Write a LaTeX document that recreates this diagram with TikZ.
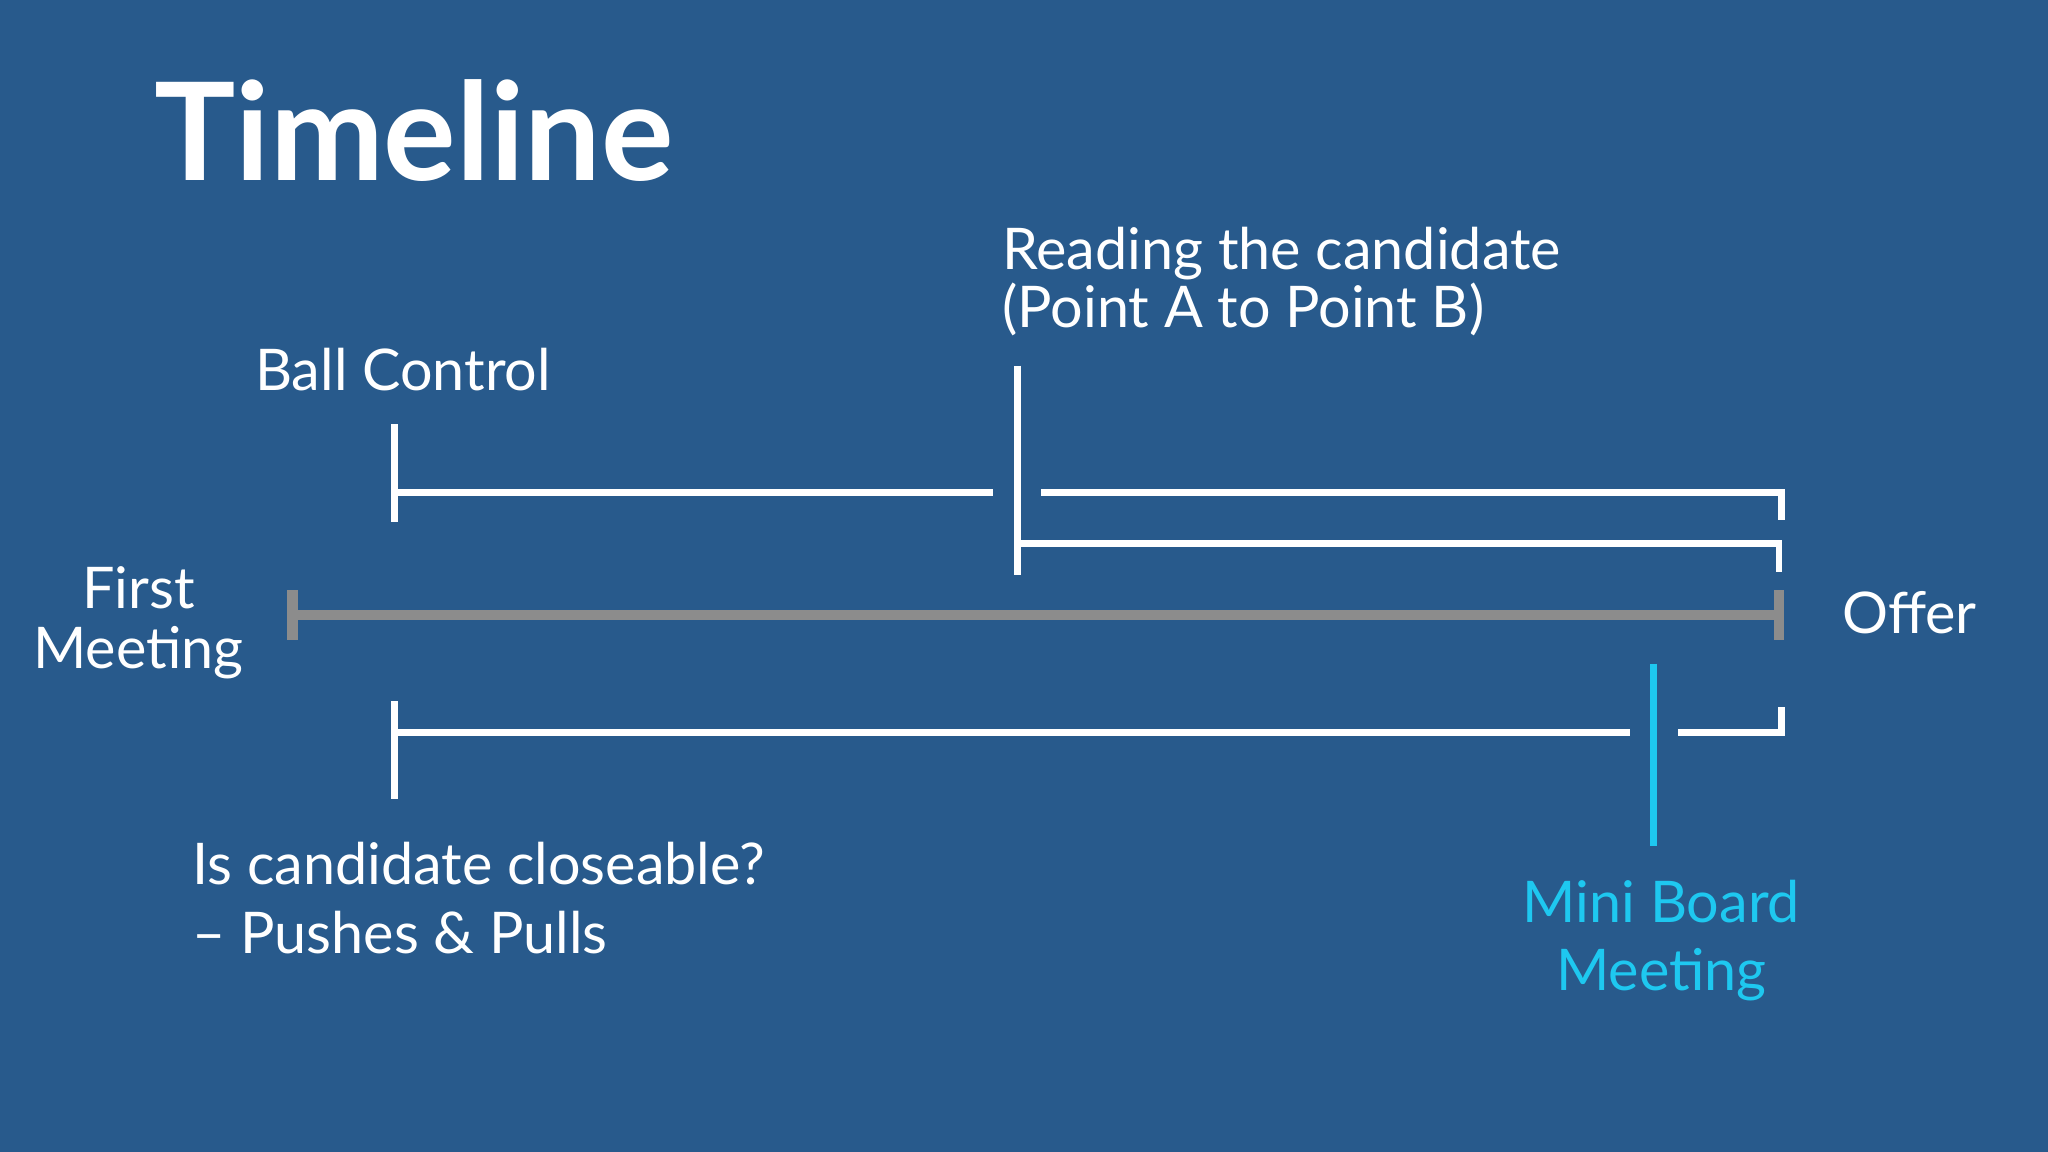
\documentclass[tikz,border=0pt]{standalone}
\usepackage{fontspec}
\setmainfont{Lato}
\definecolor{bg}{HTML}{285A8C}
\definecolor{cy}{HTML}{1EC8F0}
\definecolor{gr}{HTML}{8C8C8C}
\begin{document}
\begin{tikzpicture}[x=0.5pt,y=-0.5pt,
  wl/.style={draw=white,line width=2.5pt},
  lbl/.style={text=white,font=\fontsize{22}{26}\selectfont,inner sep=0pt,anchor=base west}]
\fill[bg] (0,0) rectangle (1568,882);
\useasboundingbox (0,0) rectangle (1568,882);
\node[lbl,font=\bfseries\fontsize{52}{60}\selectfont] (title) at (118,138) {Timeline};
% grey main line
\coordinate (g1) at (224,471); \coordinate (g2) at (1362,471);
\draw[gr,line width=4pt] (g1) -- (g2);
\draw[gr,line width=4pt] (224,452) -- (224,490) (1362,452) -- (1362,490);
% ball control
\coordinate (b0) at (302,325); \coordinate (b1) at (302,400);
\draw[wl] (b0) -- (b1);
\draw[wl] (302,377) -- (760,377);
\draw[wl] (797,377) -- (1364,377) -- (1364,398);
% reading
\draw[wl] (779,280) -- (779,440);
\draw[wl] (779,416) -- (1362,416) -- (1362,438);
% bottom
\draw[wl] (302,537) -- (302,612);
\draw[wl] (302,561) -- (1248,561);
\draw[wl] (1285,561) -- (1364,561) -- (1364,541);
\draw[cy,line width=2.5pt] (1266,508) -- (1266,648);
% texts
\node[lbl] (bc) at (195,299) {Ball Control};
\node[lbl] (rd) at (767,206) {Reading the candidate};
\node[lbl] (pt) at (767,251) {(Point A to Point B)};
\node[lbl,anchor=base] (fm1) at (106,466) {First};
\node[lbl,anchor=base] (fm2) at (106,512) {Meeting};
\node[lbl] (of) at (1410,485) {Offer};
\node[lbl] (ic) at (147,677) {Is candidate closeable?};
\node[lbl] (pp) at (147,730) {– Pushes \& Pulls};
\node[lbl,anchor=base,text=cy] (mb1) at (1272,706) {Mini Board};
\node[lbl,anchor=base,text=cy] (mb2) at (1272,758) {Meeting};
\end{tikzpicture}
\end{document}
